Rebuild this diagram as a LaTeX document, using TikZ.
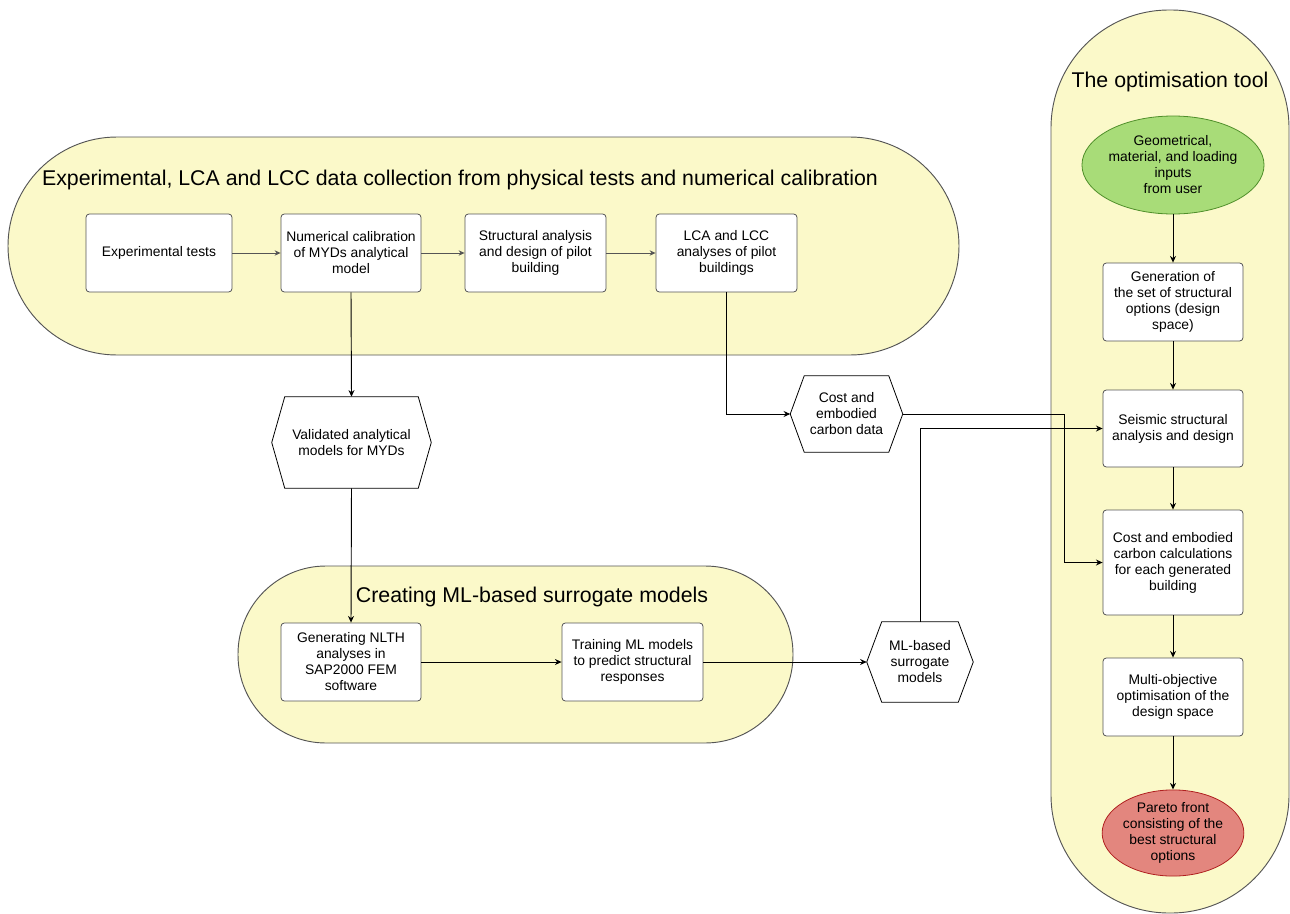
\documentclass[tikz,border=0pt]{standalone}
\usepackage{fontspec}
\setmainfont{Liberation Sans}
\usetikzlibrary{arrows.meta,calc,shapes.geometric}
\definecolor{panel}{HTML}{FBF9C9}
\definecolor{panelline}{HTML}{555555}
\definecolor{greenfill}{HTML}{A8DC78}
\definecolor{greenline}{HTML}{4F8F2A}
\definecolor{redfill}{HTML}{E3867E}
\definecolor{redline}{HTML}{B02020}
\definecolor{greyarrow}{HTML}{555555}
\newcommand\pxu{0.75pt}
\begin{document}
\begin{tikzpicture}[x=0.75pt,y=-0.75pt,
  panelbox/.style={fill=panel,draw=panelline,line width=0.7pt},
  paneltitle/.style={font=\fontsize{16}{19}\selectfont,inner sep=0pt},
  stepbox/.style={draw=panelline,fill=white,rounded corners=2.5pt,line width=0.6pt,
    align=center,font=\fontsize{10.4}{12}\selectfont,inner sep=0pt,
    minimum width=140*\pxu,minimum height=78*\pxu},
  hexlabel/.style={align=center,font=\fontsize{10.4}{12}\selectfont,inner sep=0pt},
  hexline/.style={draw=black,fill=white,line width=0.6pt},
  startnode/.style={ellipse,draw=greenline,fill=greenfill,line width=0.6pt,align=center,
    font=\fontsize{10.4}{12}\selectfont,inner sep=0pt},
  endnode/.style={ellipse,draw=redline,fill=redfill,line width=0.6pt,align=center,
    font=\fontsize{10.4}{12}\selectfont,inner sep=0pt},
  conn/.style={line width=0.7pt,-{Stealth[length=5pt,width=4.5pt]}},
  greyconn/.style={draw=greyarrow,line width=0.6pt,-{Stealth[length=4.5pt,width=4pt]}}]
\useasboundingbox (0,0) rectangle (1290,914);

% panels
\draw[panelbox,rounded corners=109*\pxu] (8,137) rectangle (959,355);
\draw[panelbox,rounded corners=88*\pxu] (238,566) rectangle (793,743);
\draw[panelbox,rounded corners=118*\pxu] (1051,10) rectangle (1289,913);

\node[paneltitle] (t1) at (460,180) {Experimental, LCA and LCC data collection from physical tests and numerical calibration};
\node[paneltitle] (t2) at (532,597) {Creating ML-based surrogate models};
\node[paneltitle] (t3) at (1170,82) {The optimisation tool};

% top row
\node[stepbox,minimum width=146*\pxu] (exp) at (159,253) {Experimental tests};
\node[stepbox] (num) at (351,253) {Numerical calibration\\of MYDs analytical\\model};
\node[stepbox,minimum width=141*\pxu] (str) at (535.5,253) {Structural analysis\\and design of pilot\\building};
\node[stepbox,minimum width=141*\pxu] (lca) at (726.5,253) {LCA and LCC\\analyses of pilot\\buildings};

% hexagons
\node[hexlabel,minimum width=159*\pxu,minimum height=91*\pxu] (val) at (351.5,442.5) {};
\node[hexlabel,minimum width=112*\pxu,minimum height=76*\pxu] (cost) at (846.5,414) {};
\node[hexlabel,minimum width=106*\pxu,minimum height=80*\pxu] (ml) at (920,662) {};
\draw[hexline] (val.west) -- ($(val.north west)+(13,0)$) -- ($(val.north east)+(-13,0)$) -- (val.east) -- ($(val.south east)+(-13,0)$) -- ($(val.south west)+(13,0)$) -- cycle;
\draw[hexline] (cost.west) -- ($(cost.north west)+(14,0)$) -- ($(cost.north east)+(-14,0)$) -- (cost.east) -- ($(cost.south east)+(-14,0)$) -- ($(cost.south west)+(14,0)$) -- cycle;
\draw[hexline] (ml.west) -- ($(ml.north west)+(15,0)$) -- ($(ml.north east)+(-15,0)$) -- (ml.east) -- ($(ml.south east)+(-15,0)$) -- ($(ml.south west)+(15,0)$) -- cycle;
\node[hexlabel] (valtext) at (val) {Validated analytical\\models for MYDs};
\node[hexlabel] (costtext) at (cost) {Cost and\\embodied\\carbon data};
\node[hexlabel] (mltext) at (ml) {ML-based\\surrogate\\models};

% bottom row
\node[stepbox] (nlth) at (351,662) {Generating NLTH\\analyses in\\SAP2000 FEM\\software};
\node[stepbox,minimum width=141*\pxu] (train) at (632.5,662) {Training ML models\\to predict structural\\responses};

% optimisation tool
\node[startnode,minimum width=134*\pxu,minimum height=98*\pxu] (user) at (1173,165) {Geometrical,\\material, and loading\\inputs\\from user};
\node[stepbox] (gen) at (1173,302) {Generation of\\the set of structural\\options (design\\space)};
\node[stepbox,minimum height=77*\pxu] (seis) at (1173,428.5) {Seismic structural\\analysis and design};
\node[stepbox,minimum height=105*\pxu] (calc) at (1173,562.5) {Cost and embodied\\carbon calculations\\for each generated\\building};
\node[stepbox] (multi) at (1173,697) {Multi-objective\\optimisation of the\\design space};
\node[endnode,minimum width=124*\pxu,minimum height=85*\pxu] (pareto) at (1173,833) {Pareto front\\consisting of the\\best structural\\options};

% connectors
\draw[greyconn] (exp.east) -- (num.west);
\draw[greyconn] (num.east) -- (str.west);
\draw[greyconn] (str.east) -- (lca.west);
\draw[conn] (num.south) -- (val.north);
\draw[conn] (val.south) -- (nlth.north);
\draw[conn] (nlth.east) -- (train.west);
\draw[conn] (train.east) -- (ml.west);
\draw[conn] (lca.south) |- (cost.west);
\coordinate (jx) at (1064,0);
\draw[conn] (cost.east) -- (cost.east -| jx) -- (jx |- calc.west) -- (calc.west);
\draw[conn] (ml.north) |- (seis.west);
\draw[conn] (user.south) -- (gen.north);
\draw[conn] (gen.south) -- (seis.north);
\draw[conn] (seis.south) -- (calc.north);
\draw[conn] (calc.south) -- (multi.north);
\draw[conn] (multi.south) -- (pareto.north);
\end{tikzpicture}
\end{document}
